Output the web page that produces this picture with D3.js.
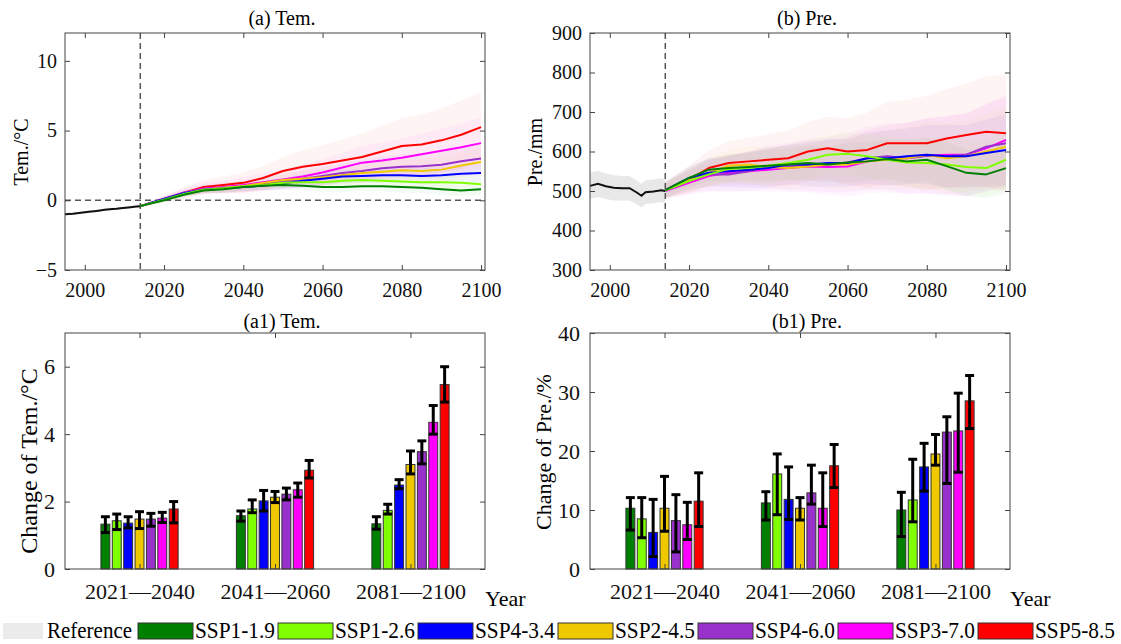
<!DOCTYPE html>
<html>
<head>
<meta charset="utf-8">
<script src="https://cdn.jsdelivr.net/npm/d3@7"></script>
<style>
  body { margin: 0; background: #fff; }
  svg, svg text { font-family: "Liberation Serif", "Times New Roman", serif; }
  .axis path { display: none; }
  .axis line { stroke: #444; }
  .axis text { fill: #111; }
</style>
</head>
<body>
<svg id="chart" width="1121" height="644"></svg>
<script>
// scenarios and colours
const scenarios = ['SSP1-1.9', 'SSP1-2.6', 'SSP4-3.4', 'SSP2-4.5', 'SSP4-6.0', 'SSP3-7.0', 'SSP5-8.5'];
const colors = ['#008000', '#80ff00', '#0000ff', '#f0c800', '#9932cc', '#ff00ff', '#ff0000'];
const serif = '"Liberation Serif", "Times New Roman", serif';

// historical reference
const refYears = [1995, 1997, 1999, 2001, 2003, 2005, 2007, 2008, 2009, 2011, 2013, 2014];
const refTem = [-1.0, -0.96, -0.9, -0.83, -0.76, -0.68, -0.62, -0.6, -0.57, -0.51, -0.45, -0.42];
const refTemSpread = [0.08, 0.08, 0.08, 0.08, 0.08, 0.08, 0.08, 0.08, 0.08, 0.08, 0.08, 0.08];
const refPre = [513, 518, 512, 508, 507, 507, 495, 488, 497, 499, 502, 500];
const refPreSpread = [33, 33, 32, 32, 31, 31, 30, 30, 30, 30, 30, 30];

// projections
const projYears = [2014, 2020, 2025, 2030, 2035, 2040, 2045, 2050, 2055, 2060, 2065, 2070, 2075, 2080, 2085, 2090, 2095, 2100];

const tem119 = [-0.42, 0.0, 0.4, 0.7, 0.8, 0.95, 1.05, 1.1, 1.05, 0.95, 0.95, 1.0, 1.0, 0.95, 0.9, 0.8, 0.7, 0.8];
const tem126 = [-0.42, 0.05, 0.45, 0.75, 0.85, 1.0, 1.1, 1.25, 1.3, 1.3, 1.4, 1.45, 1.4, 1.35, 1.3, 1.3, 1.25, 1.15];
const tem434 = [-0.42, 0.1, 0.5, 0.75, 0.85, 0.95, 1.05, 1.2, 1.4, 1.55, 1.7, 1.75, 1.8, 1.8, 1.75, 1.8, 1.9, 1.95];
const tem245 = [-0.42, 0.05, 0.45, 0.75, 0.9, 1.0, 1.25, 1.45, 1.55, 1.65, 1.8, 1.95, 2.05, 2.15, 2.1, 2.2, 2.5, 2.75];
const tem460 = [-0.42, 0.1, 0.55, 0.8, 0.9, 1.0, 1.15, 1.35, 1.55, 1.75, 1.95, 2.1, 2.3, 2.4, 2.45, 2.55, 2.8, 3.0];
const tem370 = [-0.42, 0.1, 0.55, 0.85, 0.95, 1.1, 1.3, 1.5, 1.7, 2.0, 2.35, 2.7, 2.85, 3.05, 3.3, 3.55, 3.8, 4.1];
const tem585 = [-0.42, 0.1, 0.55, 0.95, 1.1, 1.25, 1.6, 2.1, 2.4, 2.6, 2.85, 3.1, 3.5, 3.9, 4.0, 4.3, 4.7, 5.25];

const temSpread119 = [0.05, 0.15, 0.2, 0.2, 0.25, 0.25, 0.3, 0.3, 0.3, 0.35, 0.35, 0.35, 0.35, 0.4, 0.4, 0.4, 0.4, 0.4];
const temSpread126 = [0.05, 0.15, 0.2, 0.25, 0.25, 0.3, 0.3, 0.35, 0.35, 0.4, 0.4, 0.4, 0.45, 0.45, 0.45, 0.5, 0.5, 0.5];
const temSpread434 = [0.05, 0.15, 0.2, 0.25, 0.3, 0.3, 0.35, 0.4, 0.45, 0.45, 0.5, 0.5, 0.55, 0.55, 0.6, 0.6, 0.65, 0.65];
const temSpread245 = [0.05, 0.2, 0.25, 0.3, 0.35, 0.4, 0.45, 0.5, 0.55, 0.6, 0.65, 0.7, 0.75, 0.8, 0.85, 0.9, 0.95, 1.0];
const temSpread460 = [0.05, 0.2, 0.25, 0.3, 0.35, 0.4, 0.45, 0.5, 0.6, 0.65, 0.7, 0.8, 0.85, 0.9, 0.95, 1.0, 1.05, 1.1];
const temSpread370 = [0.05, 0.2, 0.3, 0.4, 0.45, 0.55, 0.65, 0.75, 0.85, 0.95, 1.05, 1.2, 1.3, 1.4, 1.5, 1.6, 1.75, 1.85];
const temSpread585 = [0.05, 0.25, 0.4, 0.5, 0.6, 0.75, 0.85, 1.0, 1.2, 1.35, 1.5, 1.7, 1.85, 2.0, 2.15, 2.3, 2.45, 2.55];

const pre119 = [502, 533, 554, 558, 561, 564, 567, 571, 567, 572, 575, 581, 575, 579, 563, 546, 542, 558];
const pre126 = [502, 525, 542, 556, 558, 564, 571, 579, 592, 594, 588, 579, 572, 571, 567, 561, 558, 579];
const pre434 = [502, 533, 546, 550, 554, 558, 567, 567, 571, 571, 583, 583, 588, 592, 588, 588, 596, 604];
const pre245 = [502, 529, 546, 564, 567, 561, 558, 562, 567, 567, 575, 579, 583, 592, 583, 588, 600, 612];
const pre460 = [502, 525, 542, 542, 550, 561, 562, 567, 567, 572, 583, 588, 583, 589, 588, 592, 612, 621];
const pre370 = [500, 521, 538, 546, 550, 554, 558, 562, 561, 562, 575, 581, 583, 589, 592, 592, 608, 629];
const pre585 = [502, 529, 558, 571, 575, 579, 583, 600, 608, 600, 604, 621, 621, 621, 633, 642, 650, 646];

const preSpread119 = [20, 25, 30, 35, 35, 40, 40, 45, 45, 50, 50, 50, 55, 55, 60, 60, 60, 65];
const preSpread126 = [20, 25, 30, 35, 40, 45, 45, 50, 50, 55, 55, 60, 60, 65, 65, 70, 70, 75];
const preSpread434 = [20, 30, 35, 40, 45, 50, 50, 55, 60, 60, 65, 70, 70, 75, 80, 80, 85, 90];
const preSpread245 = [20, 30, 35, 40, 45, 50, 55, 55, 60, 65, 70, 75, 80, 85, 90, 90, 95, 100];
const preSpread460 = [20, 30, 40, 45, 50, 55, 60, 65, 70, 75, 80, 85, 90, 95, 100, 105, 110, 115];
const preSpread370 = [20, 30, 40, 45, 50, 55, 60, 65, 70, 75, 80, 85, 90, 95, 100, 105, 110, 115];
const preSpread585 = [20, 35, 45, 55, 60, 65, 70, 75, 80, 85, 95, 105, 110, 120, 125, 130, 140, 150];

// period changes (scenario order)
const periods = ['2021\u20142040', '2041\u20142060', '2081\u20142100'];

const temChange1 = [1.33, 1.43, 1.36, 1.48, 1.48, 1.51, 1.78];
const temLow1 = [1.08, 1.17, 1.22, 1.2, 1.27, 1.38, 1.37];
const temHigh1 = [1.55, 1.63, 1.55, 1.7, 1.65, 1.68, 2.0];
const temChange2 = [1.58, 1.78, 2.02, 2.13, 2.22, 2.35, 2.93];
const temLow2 = [1.42, 1.67, 1.72, 1.97, 2.05, 2.13, 2.7];
const temHigh2 = [1.72, 2.05, 2.33, 2.3, 2.4, 2.55, 3.22];
const temChange3 = [1.34, 1.74, 2.49, 3.1, 3.48, 4.35, 5.47];
const temLow3 = [1.18, 1.63, 2.38, 2.82, 3.12, 4.0, 4.95];
const temHigh3 = [1.55, 1.92, 2.65, 3.5, 3.8, 4.85, 6.0];

const preChange1 = [10.3, 8.5, 6.2, 10.3, 8.2, 7.5, 11.5];
const preLow1 = [6.6, 5.3, 2.1, 6.4, 2.9, 5.0, 7.2];
const preHigh1 = [12.1, 12.1, 11.8, 15.7, 12.6, 11.3, 16.3];
const preChange2 = [11.2, 16.1, 11.8, 10.3, 12.9, 10.3, 17.5];
const preLow2 = [8.3, 9.2, 8.4, 8.3, 11.0, 7.2, 13.8];
const preHigh2 = [13.1, 19.5, 17.3, 12.1, 17.6, 16.3, 21.1];
const preChange3 = [10.0, 11.7, 17.3, 19.5, 23.2, 23.4, 28.5];
const preLow3 = [5.5, 8.0, 13.2, 17.6, 14.5, 16.4, 23.8];
const preHigh3 = [13.0, 18.6, 21.3, 22.8, 25.8, 29.8, 32.8];

const svg = d3.select('#chart');

const styleAxis = function (g, size) {
  g.attr('font-size', size).attr('font-family', serif);
  g.selectAll('text').style('font-family', serif);
  g.selectAll('line').attr('stroke', '#444');
};

const drawFrame = function (g, x, y, box, o) {
  const fs = o.fontSize;
  g.append('g')
      .attr('class', 'axis')
      .attr('transform', `translate(0,${box.bottom})`)
      .call(o.xAxis.tickSizeInner(-5).tickSizeOuter(0).tickPadding(o.xPad))
      .call(s => styleAxis(s, fs));
  g.append('g')
      .attr('class', 'axis')
      .attr('transform', `translate(0,${box.top})`)
      .call(d3.axisTop(x).tickValues(o.xTickValues).tickSizeInner(-5).tickSizeOuter(0).tickFormat(''))
      .call(s => styleAxis(s, fs));
  g.append('g')
      .attr('class', 'axis')
      .attr('transform', `translate(${box.left},0)`)
      .call(d3.axisLeft(y).tickValues(o.yTicks).tickSizeInner(-5).tickSizeOuter(0).tickPadding(o.yPad).tickFormat(d3.format('d')))
      .call(s => styleAxis(s, fs));
  g.append('g')
      .attr('class', 'axis')
      .attr('transform', `translate(${box.right},0)`)
      .call(d3.axisRight(y).tickValues(o.yTicks).tickSizeInner(-5).tickSizeOuter(0).tickFormat(''))
      .call(s => styleAxis(s, fs));
  g.append('rect')
      .attr('x', box.left).attr('y', box.top)
      .attr('width', box.right - box.left).attr('height', box.bottom - box.top)
      .attr('fill', 'none').attr('stroke', '#444').attr('stroke-width', 1);
};

const drawLinePanel = function (o) {
  const box = o.box;
  const g = svg.append('g');
  const x = d3.scaleLinear().domain([1995, 2101]).range([box.left, box.right]);
  const y = d3.scaleLinear().domain(o.yDomain).range([box.bottom, box.top]);
  const xTicks = [2000, 2020, 2040, 2060, 2080, 2100];

  const area = d3.area()
      .x(d => x(d.year))
      .y0(d => y(d.v - d.s))
      .y1(d => y(d.v + d.s));
  const line = d3.line()
      .x(d => x(d.year))
      .y(d => y(d.v));

  // reference band and line
  const refData = refYears.map((yr, i) => ({year: yr, v: o.ref[i], s: o.refSpread[i]}));
  g.append('path').datum(refData)
      .attr('d', area).attr('fill', '#e8e8e8').attr('stroke', 'none');

  const seriesData = o.series.map((vals, k) =>
    projYears.map((yr, i) => ({year: yr, v: vals[i], s: o.spreads[k][i]})));

  g.selectAll('.band').data(seriesData).enter()
    .append('path')
      .attr('class', 'band')
      .attr('d', area)
      .attr('fill', (d, k) => colors[k])
      .attr('fill-opacity', o.bandOpacity)
      .attr('stroke', 'none');

  // dashed guides
  g.append('line')
      .attr('x1', x(2014)).attr('x2', x(2014))
      .attr('y1', box.top).attr('y2', box.bottom)
      .attr('stroke', '#555').attr('stroke-width', 1.5).attr('stroke-dasharray', '6,4');
  if (o.zeroLine) {
    g.append('line')
        .attr('x1', box.left).attr('x2', box.right)
        .attr('y1', y(0)).attr('y2', y(0))
        .attr('stroke', '#555').attr('stroke-width', 1.5).attr('stroke-dasharray', '6,4');
  }

  g.append('path').datum(refData)
      .attr('d', line).attr('fill', 'none').attr('stroke', '#111').attr('stroke-width', 2);

  const order = d3.range(scenarios.length).reverse();
  g.selectAll('.sline').data(order).enter()
    .append('path')
      .attr('class', 'sline')
      .attr('d', k => line(seriesData[k]))
      .attr('fill', 'none')
      .attr('stroke', k => colors[k])
      .attr('stroke-width', 2)
      .attr('stroke-linejoin', 'round');

  drawFrame(g, x, y, box, {
    xAxis: d3.axisBottom(x).tickValues(xTicks).tickFormat(d3.format('d')),
    xTickValues: xTicks,
    yTicks: o.yTicks,
    fontSize: 20,
    xPad: 13,
    yPad: 8
  });

  g.append('text')
      .attr('x', o.titleX).attr('y', 25)
      .attr('text-anchor', 'middle').attr('font-size', 20)
      .text(o.title);
  g.append('text')
      .attr('transform', `translate(${o.ylabelX},152) rotate(-90)`)
      .attr('text-anchor', 'middle').attr('font-size', 20)
      .text(o.ylabel);
};

const drawBarPanel = function (o) {
  const box = o.box;
  const g = svg.append('g');
  const x = d3.scaleLinear().domain([0.45, 3.55]).range([box.left, box.right]);
  const y = d3.scaleLinear().domain(o.yDomain).range([box.bottom, box.top]);
  const slot = 0.084;
  const barW = x(0.066) - x(0);

  const rows = [];
  o.means.forEach((vals, p) => {
    vals.forEach((v, i) => {
      rows.push({p: p, i: i, v: v, lo: o.lows[p][i], hi: o.highs[p][i],
                 cx: x(p + 1 + (i - 3) * slot)});
    });
  });

  g.selectAll('.bar').data(rows).enter()
    .append('rect')
      .attr('class', 'bar')
      .attr('x', d => d.cx - barW / 2)
      .attr('y', d => y(d.v))
      .attr('width', barW)
      .attr('height', d => y(0) - y(d.v))
      .attr('fill', d => colors[d.i])
      .attr('stroke', '#333')
      .attr('stroke-width', 1);

  const err = g.selectAll('.err').data(rows).enter()
    .append('g').attr('class', 'err')
      .attr('stroke', '#000').attr('stroke-width', 3);
  err.append('line')
      .attr('x1', d => d.cx).attr('x2', d => d.cx)
      .attr('y1', d => y(d.lo)).attr('y2', d => y(d.hi));
  err.append('line')
      .attr('x1', d => d.cx - barW / 2).attr('x2', d => d.cx + barW / 2)
      .attr('y1', d => y(d.lo)).attr('y2', d => y(d.lo));
  err.append('line')
      .attr('x1', d => d.cx - barW / 2).attr('x2', d => d.cx + barW / 2)
      .attr('y1', d => y(d.hi)).attr('y2', d => y(d.hi));

  drawFrame(g, x, y, box, {
    xAxis: d3.axisBottom(x).tickValues([1, 2, 3]).tickFormat((d, i) => periods[i]),
    xTickValues: [1, 2, 3],
    yTicks: o.yTicks,
    fontSize: 22,
    xPad: 14,
    yPad: 10
  });

  g.append('text')
      .attr('x', o.titleX).attr('y', 328)
      .attr('text-anchor', 'middle').attr('font-size', 20)
      .text(o.title);
  g.append('text')
      .attr('x', box.right).attr('y', 606)
      .attr('font-size', 22)
      .text('Year');
  g.append('text')
      .attr('transform', `translate(${o.ylabelX},${o.ylabelY}) rotate(-90)`)
      .attr('text-anchor', 'middle').attr('font-size', o.ylabelSize)
      .text(o.ylabel);
};

drawLinePanel({
  box: {left: 65, right: 485, top: 33, bottom: 270},
  yDomain: [-5, 12], yTicks: [-5, 0, 5, 10],
  ref: refTem, refSpread: refTemSpread,
  series: [tem119, tem126, tem434, tem245, tem460, tem370, tem585],
  spreads: [temSpread119, temSpread126, temSpread434, temSpread245, temSpread460, temSpread370, temSpread585],
  bandOpacity: 0.045, zeroLine: true,
  title: '(a) Tem.', titleX: 282, ylabel: 'Tem./\u00b0C', ylabelX: 28
});

drawLinePanel({
  box: {left: 590, right: 1010, top: 33, bottom: 270},
  yDomain: [300, 900], yTicks: [300, 400, 500, 600, 700, 800, 900],
  ref: refPre, refSpread: refPreSpread,
  series: [pre119, pre126, pre434, pre245, pre460, pre370, pre585],
  spreads: [preSpread119, preSpread126, preSpread434, preSpread245, preSpread460, preSpread370, preSpread585],
  bandOpacity: 0.045, zeroLine: false,
  title: '(b) Pre.', titleX: 807, ylabel: 'Pre./mm', ylabelX: 542
});

drawBarPanel({
  box: {left: 65, right: 485, top: 333, bottom: 569},
  yDomain: [0, 7], yTicks: [0, 2, 4, 6],
  means: [temChange1, temChange2, temChange3],
  lows: [temLow1, temLow2, temLow3],
  highs: [temHigh1, temHigh2, temHigh3],
  title: '(a1) Tem.', titleX: 282,
  ylabel: 'Change of Tem./\u00b0C', ylabelX: 37, ylabelY: 461, ylabelSize: 24
});

drawBarPanel({
  box: {left: 590, right: 1010, top: 333, bottom: 569},
  yDomain: [0, 40], yTicks: [0, 10, 20, 30, 40],
  means: [preChange1, preChange2, preChange3],
  lows: [preLow1, preLow2, preLow3],
  highs: [preHigh1, preHigh2, preHigh3],
  title: '(b1) Pre.', titleX: 807,
  ylabel: 'Change of Pre./%', ylabelX: 551, ylabelY: 452, ylabelSize: 22
});

// legend
const legend = svg.append('g').attr('font-size', 23);
legend.append('rect')
    .attr('x', 3).attr('y', 623).attr('width', 40).attr('height', 16)
    .attr('fill', '#ebebeb');
legend.append('text')
    .attr('x', 47).attr('y', 638)
    .attr('textLength', 85).attr('lengthAdjust', 'spacingAndGlyphs')
    .text('Reference');

const items = legend.selectAll('.item').data(scenarios).enter()
  .append('g').attr('class', 'item')
    .attr('transform', (d, i) => `translate(${138 + i * 140},0)`);
items.append('rect')
    .attr('x', 0).attr('y', 623).attr('width', 55).attr('height', 16)
    .attr('fill', (d, i) => colors[i])
    .attr('stroke', '#333').attr('stroke-width', 1);
items.append('text')
    .attr('x', 57).attr('y', 638)
    .attr('textLength', 80).attr('lengthAdjust', 'spacingAndGlyphs')
    .text(d => d);
</script>
</body>
</html>
